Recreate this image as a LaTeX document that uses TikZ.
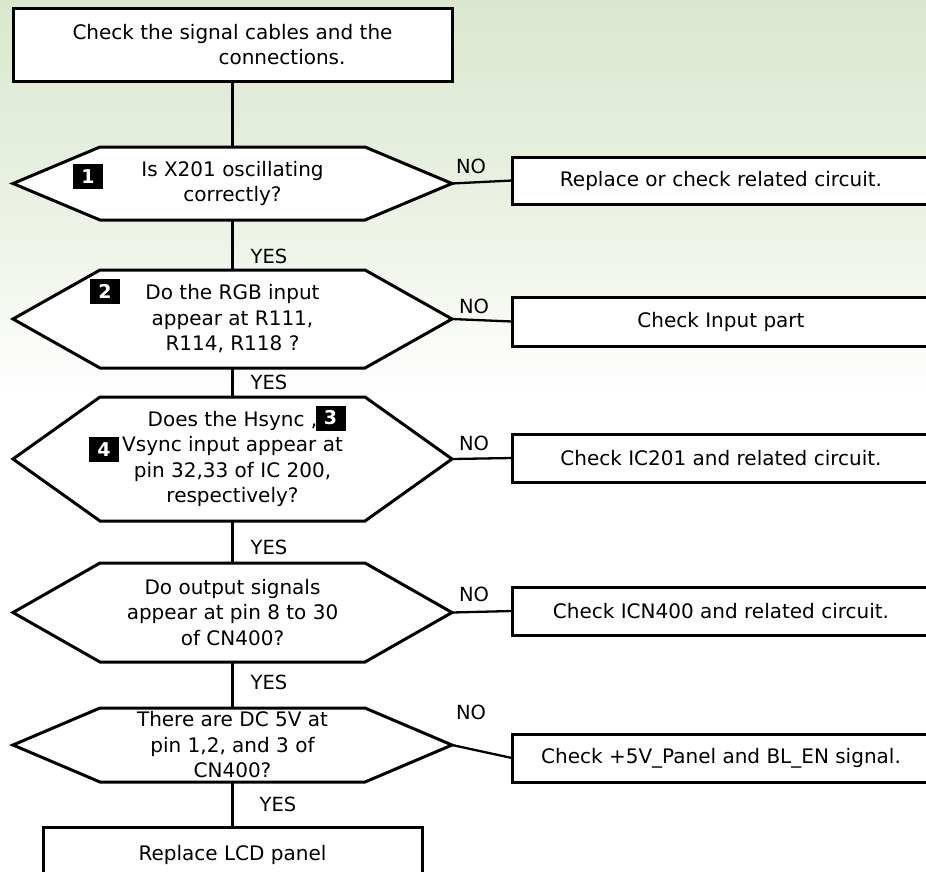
\documentclass[tikz,border=0pt]{standalone}
\usepackage{fontspec}
\setmainfont{DejaVu Sans}
\usetikzlibrary{calc}
\pgfdeclarelayer{back}
\pgfdeclarelayer{hexlayer}
\pgfsetlayers{back,hexlayer,main}
\definecolor{bgtop}{RGB}{218,231,206}
\definecolor{bgmid}{RGB}{234,241,227}
\newcommand{\hexdraw}[1]{%
  \begin{pgfonlayer}{hexlayer}
  \draw[hexline] (#1.west) -- ([xshift=87pt]#1.north west) -- ([xshift=-87pt]#1.north east) -- (#1.east) -- ([xshift=-87pt]#1.south east) -- ([xshift=87pt]#1.south west) -- cycle;
  \end{pgfonlayer}}
\tikzset{
  maintext/.style={font=\fontsize{20}{25.5}\selectfont},
  hexnode/.style={maintext, draw=none, inner sep=0pt, outer sep=0pt, minimum width=439pt, align=center},
  hexline/.style={draw=black, fill=white, line width=3pt, line join=miter},
  rbox/.style={maintext, draw=black, fill=white, line width=3pt, inner sep=0pt, outer sep=0pt, minimum width=418pt},
  numbox/.style={fill=black, text=white, font=\fontsize{19}{19}\selectfont\bfseries, inner sep=0pt, minimum width=30pt, minimum height=25pt},
  lbl/.style={font=\fontsize{19.5}{19.5}\selectfont, inner sep=0pt},
  vline/.style={line width=3pt},
  noline/.style={line width=2.3pt},
}
\begin{document}
\begin{tikzpicture}[x=1pt,y=-1pt]
\useasboundingbox (0,0) rectangle (926,871);
\begin{pgfonlayer}{back}
  \fill[white] (0,0) rectangle (926,871);
  \shade[top color=bgtop, bottom color=bgmid] (0,0) rectangle (926,200);
  \shade[top color=bgmid, bottom color=white] (0,199.5) rectangle (926,400);
\end{pgfonlayer}

% start box
\node[rbox, minimum width=439pt, minimum height=73pt, align=left] (top) at (232.5,44.5)
  {Check the signal cables and the\\\hspace*{146pt}connections.};

% decisions
\node[hexnode, minimum height=73pt] (h1) at (232.5,183.5) {Is X201 oscillating\\correctly?};
\hexdraw{h1}
\node[hexnode, minimum height=98pt] (h2) at (232.5,319) {Do the RGB input\\appear at R111,\\R114, R118 ?};
\hexdraw{h2}
\node[hexnode, minimum height=124pt] (h3) at (232.5,459) {Does the Hsync ,\\Vsync input appear at\\pin 32,33 of IC 200,\\respectively?};
\hexdraw{h3}
\node[hexnode, minimum height=99pt] (h4) at (232.5,612.5) {Do output signals\\appear at pin 8 to 30\\of CN400?};
\hexdraw{h4}
\node[hexnode, minimum height=74pt] (h5) at (232.5,745) {There are DC 5V at\\pin 1,2, and 3 of\\CN400?};
\hexdraw{h5}

% number markers
\node[numbox] (n1) at (88,176.5) {1};
\node[numbox] (n2) at (105,291.5) {2};
\node[numbox] (n3) at (330.5,418) {3};
\node[numbox] (n4) at (104,449.5) {4};

% end box
\node[rbox, minimum width=379pt, minimum height=56pt] (fin) at (232.5,855) {Replace LCD panel};

% right boxes
\node[rbox, minimum height=47pt] (b1) at (721,180.5) {Replace or check related circuit.};
\node[rbox, minimum height=49pt] (b2) at (721,321.5) {Check Input part};
\node[rbox, minimum height=48pt] (b3) at (721,458) {Check IC201 and related circuit.};
\node[rbox, minimum height=48pt] (b4) at (721,611) {Check ICN400 and related circuit.};
\node[rbox, minimum height=48pt] (b5) at (721,758) {Check +5V\_Panel and BL\_EN signal.};

% vertical connectors
\draw[vline] (top.south) -- (h1.north);
\draw[vline] (h1.south) -- (h2.north);
\draw[vline] (h2.south) -- (h3.north);
\draw[vline] (h3.south) -- (h4.north);
\draw[vline] (h4.south) -- (h5.north);
\draw[vline] (h5.south) -- (fin.north);

% NO connectors
\draw[noline] (h1.east) -- (b1.west);
\draw[noline] (h2.east) -- (b2.west);
\draw[noline] (h3.east) -- (b3.west);
\draw[noline] (h4.east) -- (b4.west);
\draw[noline] (h5.east) -- (b5.west);

% labels
\node[lbl] (y1) at (269,256) {YES};
\node[lbl] (y2) at (269,382) {YES};
\node[lbl] (y3) at (269,547) {YES};
\node[lbl] (y4) at (269,682) {YES};
\node[lbl] (y5) at (278,804) {YES};
\node[lbl] (o1) at (471,166) {NO};
\node[lbl] (o2) at (474,306) {NO};
\node[lbl] (o3) at (474,443) {NO};
\node[lbl] (o4) at (474,594) {NO};
\node[lbl] (o5) at (471,712) {NO};
\end{tikzpicture}
\end{document}
